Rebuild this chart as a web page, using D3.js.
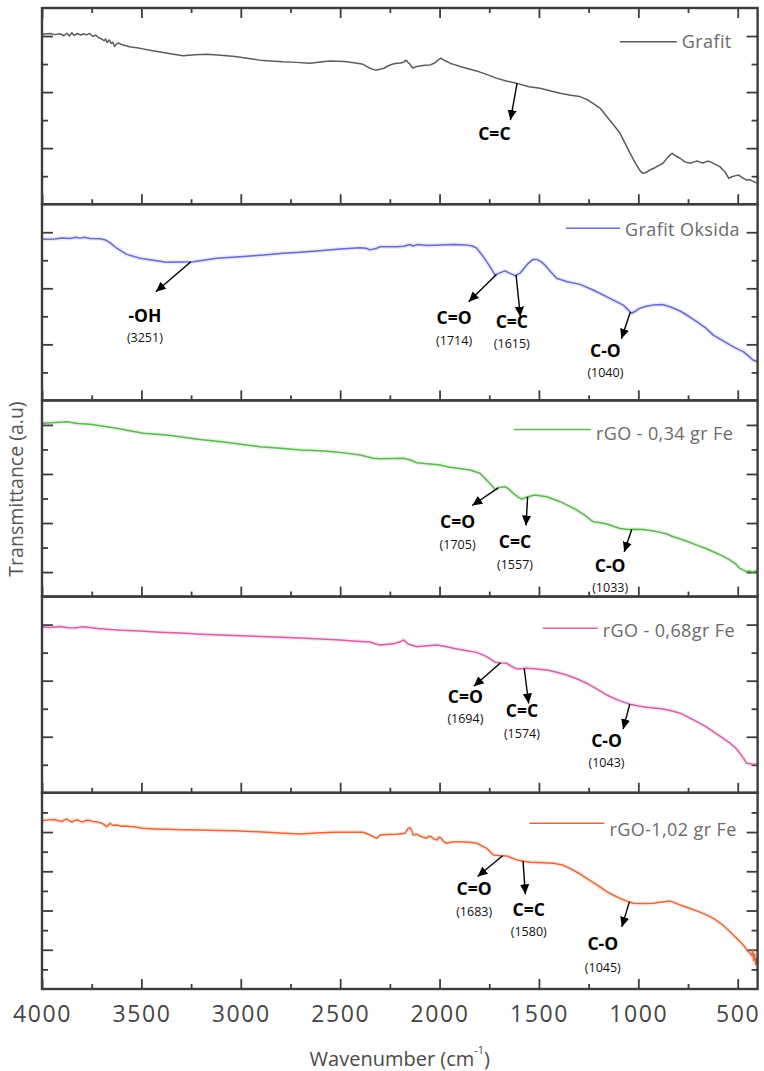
<!DOCTYPE html>
<html>
<head>
<meta charset="utf-8">
<script src="https://cdn.jsdelivr.net/npm/d3@7"></script>
<style>
  html, body { margin: 0; padding: 0; background: #fff; }
  svg { display: block; }
</style>
</head>
<body>
<svg id="chart" width="764" height="1071"></svg>
<script>
// ---------- data ----------
const seriesNames = ["Grafit", "Grafit Oksida", "rGO - 0,34 gr Fe", "rGO - 0,68gr Fe", "rGO-1,02 gr Fe"];
const xTickValues = [4000, 3500, 3000, 2500, 2000, 1500, 1000, 500];
const xMinorTickValues = [3750, 3250, 2750, 2250, 1750, 1250, 750];
const yMaxValues = [70, 70, 80, 70, 100];

// [wavenumber (cm-1), transmittance (a.u.)]
const grafit = [[4000,60.6],[3960,60.9],[3935,60.5],[3910,60.8],[3890,60.1],[3875,61.0],[3862,60.0],[3850,61.2],[3838,60.2],[3822,60.9],[3805,60.3],[3790,60.8],[3775,60.4],[3760,60.9],[3745,59.9],[3730,60.3],[3715,59.4],[3700,59.0],[3688,58.3],[3680,58.9],[3672,57.7],[3662,58.6],[3652,57.4],[3643,57.8],[3635,56.3],[3626,57.1],[3618,57.5],[3600,57.0],[3560,56.2],[3507,55.6],[3450,54.8],[3391,54.1],[3330,53.4],[3291,53.0],[3230,53.3],[3170,53.5],[3100,53.1],[3029,52.7],[2960,52.0],[2903,51.4],[2850,51.1],[2788,50.8],[2720,50.6],[2652,50.3],[2600,50.7],[2551,51.1],[2476,50.9],[2415,50.3],[2385,49.9],[2365,49.1],[2350,48.5],[2330,48.0],[2315,47.9],[2295,48.2],[2280,48.5],[2260,49.3],[2235,50.0],[2214,50.3],[2195,50.4],[2179,50.7],[2170,51.3],[2164,51.1],[2157,50.4],[2149,50.0],[2140,49.0],[2134,48.6],[2120,49.0],[2098,49.3],[2075,49.6],[2048,49.7],[2030,50.2],[2018,50.7],[2005,51.6],[1993,52.1],[1983,51.6],[1968,51.1],[1948,50.3],[1925,49.8],[1897,49.1],[1865,48.5],[1832,47.9],[1800,47.2],[1771,46.5],[1740,45.7],[1711,44.9],[1660,43.9],[1610,43.1],[1550,41.9],[1495,41.4],[1440,40.4],[1394,39.6],[1340,38.9],[1294,38.4],[1260,37.4],[1228,36.0],[1193,34.3],[1158,31.2],[1128,28.6],[1092,25.3],[1067,21.8],[1042,18.2],[1012,14.3],[990,11.8],[977,11.0],[960,11.4],[941,12.2],[920,12.9],[906,13.5],[876,14.6],[851,16.8],[831,18.2],[820,17.6],[810,17.2],[790,16.4],[765,15.1],[740,14.6],[720,15.1],[705,15.4],[690,15.0],[675,14.7],[655,15.3],[640,15.2],[615,14.3],[590,13.4],[575,12.3],[564,11.5],[545,9.2],[530,9.8],[514,10.1],[495,10.4],[475,9.4],[455,8.6],[440,8.8],[428,8.3],[415,7.9],[403,7.5]];

const grafitOksida = [[4000,57.5],[3935,57.6],[3900,57.9],[3859,57.8],[3830,58.2],[3809,57.9],[3785,58.2],[3759,57.8],[3708,57.7],[3680,57.2],[3658,56.3],[3624,54.3],[3574,52.1],[3507,50.7],[3423,49.8],[3373,49.3],[3300,49.4],[3239,49.5],[3180,50.1],[3121,50.7],[3040,51.1],[2954,51.5],[2870,52.0],[2788,52.5],[2700,52.9],[2618,53.3],[2500,54.0],[2400,54.5],[2370,54.3],[2350,53.7],[2316,54.3],[2300,54.8],[2216,54.8],[2180,55.0],[2150,55.6],[2132,55.1],[2110,55.6],[2060,55.3],[1998,55.4],[1930,55.6],[1864,55.4],[1835,55.1],[1813,54.3],[1780,51.3],[1746,47.7],[1721,44.7],[1700,45.4],[1671,46.2],[1645,45.3],[1620,44.5],[1595,45.4],[1554,48.9],[1530,50.3],[1511,50.3],[1490,49.5],[1470,48.3],[1440,45.8],[1411,43.6],[1361,42.4],[1294,41.4],[1227,39.4],[1143,36.4],[1076,34.0],[1050,32.2],[1034,31.1],[1015,31.8],[992,32.9],[960,33.6],[925,34.0],[880,34.2],[841,33.4],[790,31.9],[750,30.2],[706,28.1],[660,25.8],[623,23.3],[580,21.5],[539,19.8],[500,18.3],[472,17.4],[445,15.8],[423,14.4],[401,13.8]];

const rgo034 = [[4000,70.7],[3950,70.9],[3876,71.3],[3820,70.6],[3759,70.3],[3700,69.6],[3624,68.6],[3560,67.6],[3490,66.6],[3373,65.9],[3290,65.0],[3205,64.1],[3120,63.3],[3038,62.5],[2903,61.1],[2800,60.5],[2702,59.8],[2600,59.5],[2535,59.1],[2460,58.4],[2400,57.7],[2333,56.4],[2300,56.2],[2240,56.3],[2182,56.4],[2150,55.8],[2115,54.6],[2060,54.2],[1998,53.7],[1948,52.7],[1900,52.2],[1847,51.6],[1797,50.3],[1763,47.5],[1740,45.5],[1721,43.8],[1700,44.5],[1671,44.8],[1650,43.8],[1629,42.1],[1605,40.6],[1587,39.7],[1560,40.6],[1520,41.4],[1461,40.7],[1394,38.7],[1350,37.0],[1310,35.3],[1265,32.9],[1227,30.5],[1190,30.1],[1159,29.6],[1092,27.8],[1051,27.4],[1010,27.5],[975,27.4],[908,26.5],[860,25.6],[824,24.4],[760,22.7],[706,21.0],[660,19.6],[623,18.3],[580,16.7],[539,14.9],[510,13.3],[489,11.5],[470,10.8],[455,10.2],[440,10.5],[425,10.0],[410,10.4],[401,10.2]];

const rgo068 = [[4000,59.2],[3960,59.0],[3910,59.3],[3870,58.9],[3834,58.8],[3800,59.2],[3759,59.0],[3720,58.6],[3658,58.3],[3600,58.0],[3507,57.7],[3410,57.3],[3306,57.0],[3200,56.6],[3105,56.3],[3000,56.0],[2903,55.8],[2800,55.5],[2702,55.2],[2600,54.9],[2501,54.5],[2420,54.1],[2350,53.8],[2320,53.1],[2300,52.7],[2260,53.0],[2224,53.3],[2195,54.0],[2182,54.5],[2170,53.9],[2159,53.1],[2115,52.1],[2060,52.5],[2014,52.7],[1970,52.2],[1931,51.6],[1870,50.8],[1813,50.1],[1763,48.6],[1721,46.6],[1690,46.3],[1662,46.2],[1640,45.2],[1612,44.2],[1562,44.4],[1510,44.2],[1461,43.8],[1410,43.0],[1361,42.0],[1310,40.7],[1260,39.1],[1210,37.1],[1159,34.9],[1125,33.8],[1092,32.8],[1042,31.6],[1000,31.0],[958,30.5],[875,29.9],[830,29.2],[790,28.4],[750,27.0],[706,25.4],[660,23.6],[623,21.8],[580,19.8],[539,17.7],[510,16.0],[489,14.1],[470,12.2],[455,10.5],[430,10.3],[403,10.2]];

const rgo102 = [[4000,85.8],[3965,86.2],[3935,86.4],[3915,85.7],[3899,85.4],[3885,86.3],[3874,86.6],[3860,85.6],[3849,85.1],[3835,86.0],[3819,86.1],[3805,85.4],[3792,85.3],[3775,86.0],[3759,85.9],[3740,85.2],[3725,85.3],[3712,84.9],[3703,84.6],[3690,84.0],[3675,82.7],[3665,83.5],[3658,84.4],[3645,83.5],[3624,83.6],[3600,83.0],[3582,83.1],[3560,82.8],[3541,82.7],[3490,81.9],[3430,81.6],[3373,81.4],[3290,81.2],[3205,81.0],[3120,80.8],[3038,80.7],[2950,80.3],[2870,79.9],[2780,79.4],[2702,79.0],[2620,79.5],[2535,79.9],[2460,79.9],[2384,79.9],[2350,78.5],[2316,76.8],[2300,78.5],[2260,78.7],[2216,78.9],[2174,79.4],[2159,81.6],[2149,82.2],[2139,80.5],[2132,78.5],[2115,78.9],[2098,78.0],[2080,77.3],[2065,76.8],[2055,77.9],[2043,77.7],[2030,76.5],[2014,75.9],[2003,77.3],[1993,77.0],[1980,75.2],[1964,74.3],[1930,75.0],[1897,75.1],[1850,74.8],[1813,74.3],[1763,71.7],[1730,68.3],[1700,68.0],[1662,67.8],[1640,66.9],[1612,65.8],[1545,64.6],[1480,64.3],[1428,64.1],[1380,63.2],[1344,61.5],[1300,59.0],[1260,56.4],[1210,53.2],[1159,49.6],[1125,47.8],[1092,46.2],[1060,44.9],[1025,43.7],[975,43.6],[925,43.7],[870,44.5],[841,44.9],[815,43.9],[790,42.8],[750,41.4],[706,39.8],[660,37.9],[623,36.0],[580,33.0],[539,29.2],[505,25.8],[472,22.4],[450,19.5],[438,18.2],[430,17.0],[425,19.8],[420,14.6],[415,17.8],[410,12.5],[405,15.6],[401,12.2]];

const spectra = [grafit, grafitOksida, rgo034, rgo068, rgo102];

// band assignments per spectrum
const peakLabels = [["C=C"], ["-OH", "C=O", "C=C", "C-O"], ["C=O", "C=C", "C-O"], ["C=O", "C=C", "C-O"], ["C=O", "C=C", "C-O"]];
const peakWavenumbers = [[1610], [3251, 1714, 1615, 1040], [1705, 1557, 1033], [1694, 1574, 1043], [1683, 1580, 1045]];
const peakNumbered = [false, true, true, true, true];

// ---------- layout & style ----------
const colors = ["#5b5b5b", "#6a6acb", "#5fb552", "#d263a6", "#e36a3f"];
const W = 764, H = 1071;
const plotLeft = 42, plotRight = 757.6, plotTop = 8, plotBottom = 989;
const panelH = (plotBottom - plotTop) / spectra.length;
const frameColor = "#3d3d3d";
const longTickParity = [0, 0, 1, 0, 0];

// arrow head offset from the band position, label centre / baselines relative to the arrow head
const calloutLayout = [
  [{dx:-6.7, dy:36.7, lx:-16, ly:20}],
  [{dx:-35, dy:30, lx:-11, ly:30, ny:50},
   {dx:-27.7, dy:27.3, lx:-14.6, ly:22, ny:43.4},
   {dx:4.3, dy:41.6, lx:-8.6, ly:11, ny:31},
   {dx:-9, dy:26.7, lx:-16, ly:18.3, ny:38}],
  [{dx:-26, dy:17.6, lx:-14.6, ly:22.4, ny:43.4},
   {dx:-1.6, dy:28.6, lx:-11, ly:22.4, ny:44},
   {dx:-7.6, dy:22.7, lx:-14, ly:19.6, ny:40.3}],
  [{dx:-26.6, dy:23.4, lx:-8.4, ly:16.6, ny:36.6},
   {dx:4.4, dy:35, lx:-6.7, ly:14, ny:35},
   {dx:-6.7, dy:25, lx:-16.6, ly:18.3, ny:37.7}],
  [{dx:-25, dy:20.7, lx:-3.4, ly:18.3, ny:40},
   {dx:2.3, dy:33.3, lx:3.4, ly:21.7, ny:41.7},
   {dx:-7.6, dy:25, lx:-19, ly:23.4, ny:45}]
];

// legend: text right end, line length, text baseline and line y relative to the panel top
const legendLayout = [
  {end:731.7, len:57, base:40.3, line:33.7},
  {end:740, len:54, base:31.8, line:24},
  {end:733.3, len:77, base:40, line:29},
  {end:735, len:55, base:40, line:31.7},
  {end:736.7, len:75, base:43, line:30.5}
];

const svg = d3.select("#chart");
svg.append("rect").attr("width", W).attr("height", H).attr("fill", "#fff");

const defs = svg.append("defs");
defs.append("marker")
  .attr("id", "arrowhead")
  .attr("viewBox", "0 -5 10 10")
  .attr("refX", 10).attr("refY", 0)
  .attr("markerWidth", 10).attr("markerHeight", 10)
  .attr("markerUnits", "userSpaceOnUse")
  .attr("orient", "auto")
  .append("path").attr("d", "M0,-4.6L10,0L0,4.6Z").attr("fill", "#000");

const x = d3.scaleLinear().domain([4000, 400]).range([plotLeft, plotRight]);

function styleTicks(g) {
  g.select(".domain").remove();
  g.selectAll(".tick line").attr("stroke", frameColor).attr("stroke-width", 1.8);
}

function interpolateAt(series, wn) {
  for (let i = 0; i < series.length - 1; i++) {
    const a = series[i], b = series[i + 1];
    if (wn <= a[0] && wn >= b[0]) {
      const t = (a[0] - wn) / (a[0] - b[0]);
      return a[1] + t * (b[1] - a[1]);
    }
  }
  return series[series.length - 1][1];
}

spectra.forEach((series, i) => {
  const top = plotTop + i * panelH;
  const bottom = top + panelH;
  const y = d3.scaleLinear().domain([0, yMaxValues[i]]).range([bottom, top]);
  const g = svg.append("g").attr("class", "panel");

  // y ticks on both sides, alternating long and short
  const yVals = d3.range(10, yMaxValues[i], 10);
  const longVals = yVals.filter(v => (v / 10) % 2 === longTickParity[i]);
  const shortVals = yVals.filter(v => (v / 10) % 2 !== longTickParity[i]);
  [[longVals, 11], [shortVals, 6]].forEach(([vals, size]) => {
    g.append("g").attr("transform", `translate(${plotLeft},0)`)
      .call(d3.axisLeft(y).tickValues(vals).tickSize(-size).tickFormat(""))
      .call(styleTicks);
    g.append("g").attr("transform", `translate(${plotRight},0)`)
      .call(d3.axisRight(y).tickValues(vals).tickSize(-size).tickFormat(""))
      .call(styleTicks);
  });

  // x ticks pointing up from the bottom edge of each panel
  g.append("g").attr("transform", `translate(0,${bottom})`)
    .call(d3.axisBottom(x).tickValues(xTickValues).tickSize(-10).tickFormat(""))
    .call(styleTicks);
  g.append("g").attr("transform", `translate(0,${bottom})`)
    .call(d3.axisBottom(x).tickValues(xMinorTickValues).tickSize(-5).tickFormat(""))
    .call(styleTicks);
  if (i === 0) {
    g.append("g").attr("transform", `translate(0,${top})`)
      .call(d3.axisTop(x).tickValues(xTickValues).tickSize(-10).tickFormat(""))
      .call(styleTicks);
    g.append("g").attr("transform", `translate(0,${top})`)
      .call(d3.axisTop(x).tickValues(xMinorTickValues).tickSize(-5).tickFormat(""))
      .call(styleTicks);
  }

  // spectrum
  const line = d3.line().x(d => x(d[0])).y(d => y(d[1]));
  if (i > 0) {
    g.append("path").datum(series)
      .attr("d", line).attr("fill", "none")
      .attr("stroke", colors[i]).attr("stroke-width", 4.5)
      .attr("stroke-opacity", 0.15).attr("stroke-linejoin", "round");
  }
  g.append("path").datum(series)
    .attr("d", line).attr("fill", "none")
    .attr("stroke", colors[i]).attr("stroke-width", 1.5)
    .attr("stroke-linejoin", "round");

  // legend
  const lg = legendLayout[i];
  const lt = g.append("text")
    .attr("x", lg.end).attr("y", top + lg.base)
    .attr("text-anchor", "end")
    .attr("font-family", "'Open Sans', sans-serif")
    .attr("font-size", 18).attr("letter-spacing", 0.4)
    .attr("fill", "#6b6b6b")
    .text(seriesNames[i]);
  const textStart = lg.end - lt.node().getComputedTextLength();
  g.append("line")
    .attr("x1", textStart - 5 - lg.len).attr("x2", textStart - 5)
    .attr("y1", top + lg.line).attr("y2", top + lg.line)
    .attr("stroke", colors[i]).attr("stroke-width", 1.5);

  // band callouts
  peakWavenumbers[i].forEach((wn, j) => {
    const c = calloutLayout[i][j];
    const tx = x(wn), ty = y(interpolateAt(series, wn));
    const hx = tx + c.dx, hy = ty + c.dy;
    g.append("line")
      .attr("x1", tx).attr("y1", ty).attr("x2", hx).attr("y2", hy)
      .attr("stroke", "#000").attr("stroke-width", 1.4)
      .attr("marker-end", "url(#arrowhead)");
    g.append("text")
      .attr("x", hx + c.lx).attr("y", hy + c.ly)
      .attr("text-anchor", "middle")
      .attr("font-family", "'Open Sans', sans-serif")
      .attr("font-weight", 700).attr("font-size", 17.5)
      .attr("fill", "#000")
      .text(peakLabels[i][j]);
    if (peakNumbered[i]) {
      g.append("text")
        .attr("x", hx + c.lx).attr("y", hy + c.ny)
        .attr("text-anchor", "middle")
        .attr("font-family", "'Open Sans', sans-serif")
        .attr("font-size", 12.5)
        .attr("fill", "#111")
        .text(`(${wn})`);
    }
  });

  // panel frame
  g.append("rect")
    .attr("x", plotLeft).attr("y", top)
    .attr("width", plotRight - plotLeft).attr("height", panelH)
    .attr("fill", "none").attr("stroke", frameColor).attr("stroke-width", 2.4);
});

// x tick labels
svg.append("g").attr("transform", `translate(0,${plotBottom})`)
  .call(d3.axisBottom(x).tickValues(xTickValues).tickSize(0).tickPadding(16.4).tickFormat(d3.format("d")))
  .call(g => g.select(".domain").remove())
  .call(g => g.selectAll("text")
    .attr("font-family", "'Open Sans', sans-serif")
    .attr("font-size", 23)
    .attr("letter-spacing", 1.6)
    .attr("fill", "#454545"));

// axis titles
const xTitle = svg.append("text")
  .attr("x", (plotLeft + plotRight) / 2).attr("y", 1066)
  .attr("text-anchor", "middle")
  .attr("font-family", "'Open Sans', sans-serif")
  .attr("font-size", 20).attr("fill", "#4a4a4a");
xTitle.append("tspan").text("Wavenumber (cm");
xTitle.append("tspan").attr("font-size", 11).attr("dy", -12).text("-1");
xTitle.append("tspan").attr("dy", 12).text(")");

svg.append("text")
  .attr("transform", "translate(23,489) rotate(-90)")
  .attr("text-anchor", "middle")
  .attr("font-family", "'Open Sans', sans-serif")
  .attr("font-size", 19.5).attr("fill", "#555")
  .text("Transmittance (a.u)");
</script>
</body>
</html>
